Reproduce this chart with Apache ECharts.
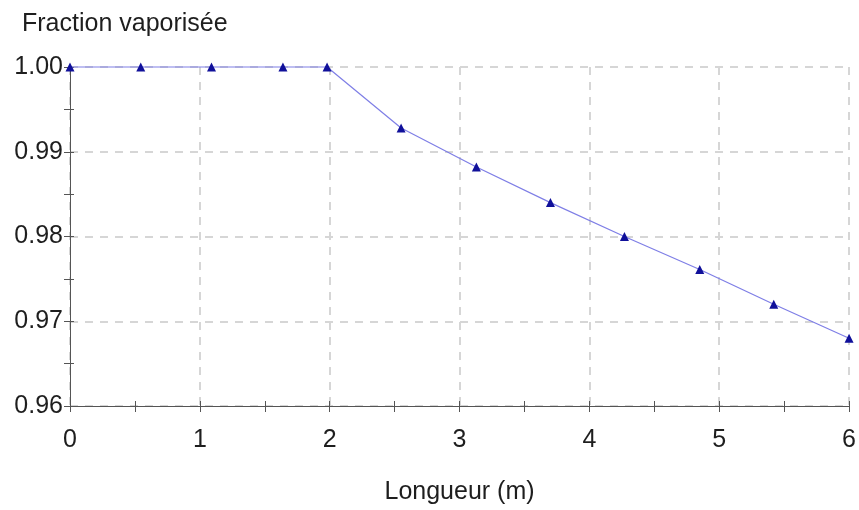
<!DOCTYPE html>
<html><head><meta charset="utf-8">
<script src="https://cdn.jsdelivr.net/npm/echarts@6/dist/echarts.min.js"></script>
<style>html,body{margin:0;padding:0;background:#fff}#c{width:859px;height:510px}</style>
</head><body><div id="c"></div>
<script>
const longueur = [0, 0.545, 1.09, 1.64, 1.98, 2.55, 3.13, 3.70, 4.27, 4.85, 5.42, 6.0];
const fraction = [1.000, 1.000, 1.000, 1.000, 1.000, 0.9928, 0.9882, 0.9840, 0.9800, 0.9761, 0.9720, 0.9680];
const xTitle = 'Longueur (m)';
const yTitle = 'Fraction vaporisée';

const font = 'Liberation Sans, Arial, sans-serif';
const txt = '#1e1e1e';
const axisCol = '#555';
const gridLine = {show: true, lineStyle: {color: '#d6d6d6', width: 2, type: [8, 7]}};
const chart = echarts.init(document.getElementById('c'), null, {renderer: 'canvas'});
chart.setOption({
  animation: false,
  backgroundColor: '#fff',
  title: {text: yTitle, left: 17, top: 7, textStyle: {fontFamily: font, fontSize: 25, fontWeight: 'normal', color: txt}},
  grid: {left: 70, right: 8, top: 67, bottom: 103, containLabel: false},
  xAxis: [{
    type: 'value', min: 0, max: 6, interval: 1,
    name: xTitle, nameLocation: 'middle', nameGap: 74,
    nameTextStyle: {fontFamily: font, fontSize: 25, color: txt},
    axisLine: {show: true, onZero: false, lineStyle: {color: axisCol, width: 1}},
    axisTick: {show: true, length: 6, lineStyle: {color: axisCol}},
    minorTick: {show: true, splitNumber: 2, length: 6, lineStyle: {color: axisCol}},
    axisLabel: {fontFamily: font, fontSize: 25, color: txt, margin: 22},
    splitLine: gridLine
  }, {
    type: 'value', min: 0, max: 6, interval: 1, position: 'bottom',
    axisLine: {show: false, onZero: false},
    axisTick: {show: true, inside: true, length: 5, lineStyle: {color: axisCol}},
    minorTick: {show: true, splitNumber: 2, length: 5, lineStyle: {color: axisCol}},
    axisLabel: {show: false},
    splitLine: {show: false}
  }],
  yAxis: [{
    type: 'value', min: 0.96, max: 1.0, interval: 0.01,
    axisLine: {show: true, onZero: false, lineStyle: {color: axisCol, width: 1}},
    axisTick: {show: true, length: 6, lineStyle: {color: axisCol}},
    minorTick: {show: true, splitNumber: 2, length: 6, lineStyle: {color: axisCol}},
    axisLabel: {fontFamily: font, fontSize: 25, color: txt, margin: 7, formatter: v => v.toFixed(2)},
    splitLine: gridLine
  }, {
    type: 'value', min: 0.96, max: 1.0, interval: 0.01, position: 'left',
    axisLine: {show: false, onZero: false},
    axisTick: {show: true, inside: true, length: 4, lineStyle: {color: axisCol}},
    minorTick: {show: true, splitNumber: 2, length: 4, lineStyle: {color: axisCol}},
    axisLabel: {show: false},
    splitLine: {show: false}
  }],
  series: [{
    type: 'line',
    xAxisIndex: 0, yAxisIndex: 0,
    data: longueur.map((x, i) => [x, fraction[i]]),
    symbol: 'triangle', symbolSize: 9,
    itemStyle: {color: '#10109a'},
    lineStyle: {color: '#7e7ee6', width: 1.2},
    clip: false, z: 5
  }]
});
</script></body></html>
